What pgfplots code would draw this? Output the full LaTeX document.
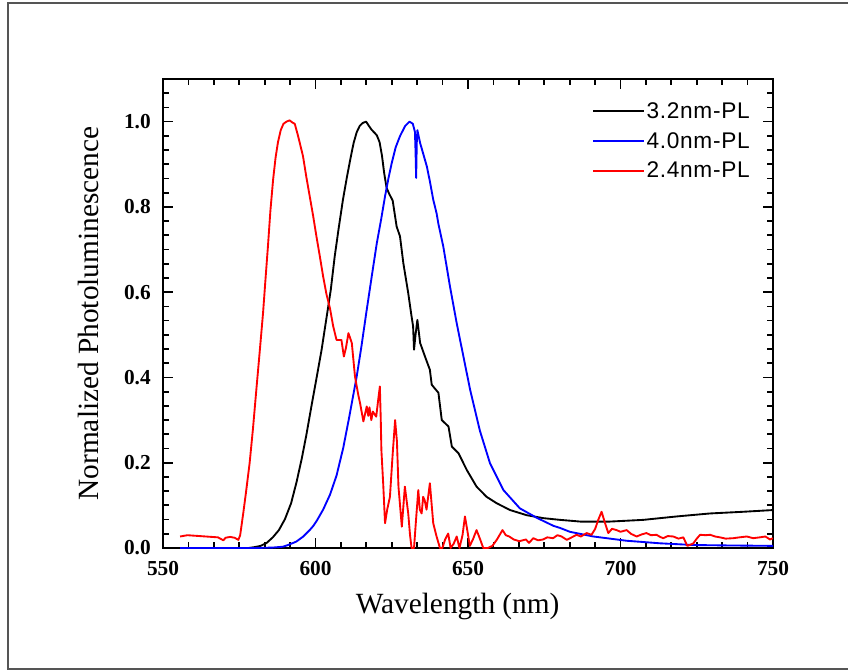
\documentclass[border=0pt]{standalone}
\usepackage{fontspec}
\setmainfont{Liberation Serif}
\newfontfamily\legfont[LetterSpace=3.0]{Liberation Sans}
\usepackage{pgfplots}
\pgfplotsset{compat=1.18}
\definecolor{framegray}{RGB}{85,85,85}
\begin{document}
\begin{tikzpicture}
\useasboundingbox (0,0) rectangle (636pt,503.25pt);
\draw[framegray, line width=1.5pt] (6pt,1.5pt) rectangle (640pt,501pt);
\begin{axis}[
  at={(122.25pt,92.25pt)}, anchor=south west,
  scale only axis, width=457.5pt, height=351.75pt,
  xmin=550, xmax=750, ymin=0, ymax=1.1,
  xtick={550,600,650,700,750},
  ytick={0,0.2,0.4,0.6,0.8,1.0},
  minor tick num=5,
  extra y ticks={1.033333,1.066667},
  extra y tick labels={},
  extra y tick style={major tick length=4.5pt},
  tick align=inside,
  major tick length=7.5pt, minor tick length=4.5pt,
  axis line style={line width=1.5pt},
  major tick style={black, line width=1.3pt},
  minor tick style={black, line width=1.3pt},
  /pgf/number format/assume math mode=true,
  xticklabel style={font=\fontsize{16}{18}\selectfont\bfseries, anchor=base, yshift=-20.25pt, inner sep=0pt},
  yticklabel style={font=\fontsize{16}{18}\selectfont\bfseries, anchor=east, xshift=-9pt, inner sep=0pt,
    /pgf/number format/fixed, /pgf/number format/precision=1, /pgf/number format/fixed zerofill},
  xticklabel={\pgfmathprintnumber[fixed,precision=0]{\tick}},
  xlabel={Wavelength (nm)},
  ylabel={Normalized Photoluminescence},
  label style={font=\fontsize{22}{26}\selectfont},
  xlabel style={at={(axis description cs:0.483,-0.1386)}, anchor=base},
  ylabel style={at={(axis description cs:-0.123,0.5)}, anchor=center, rotate=0},
  legend style={draw=none, fill=none, at={(axis description cs:0.703,0.955)}, anchor=north west,
    font=\legfont\fontsize{17}{20}\selectfont, row sep=6pt, inner sep=0pt,
    nodes={inner sep=1.5pt}},
  legend cell align=left,
  legend image code/.code={\draw[#1] (0pt,0pt) -- (38pt,0pt);},
]
\addplot[black, line width=1.4pt, line join=round] coordinates {
(556,0.0) (570,0.0) (578,0.0) (580,0.002) (582,0.005) (584,0.012) (586,0.025) (588,0.042)
(590,0.068) (592,0.105) (593.8,0.155) (595.5,0.21) (597,0.265) (598.6,0.33) (600.3,0.397)
(602,0.465) (603.5,0.535) (605,0.605) (606.3,0.684) (607.6,0.75) (609,0.817) (610.3,0.87)
(611.5,0.915) (612.5,0.95) (613.5,0.975) (614.5,0.99) (615.5,0.997) (616.6,1.0) (617.5,0.99) (618.4,0.981)
(619.2,0.975) (620.1,0.968) (621.0,0.952) (621.8,0.92) (622.5,0.88) (623.3,0.845) (624.2,0.83) (625.3,0.815)
(626.6,0.754) (627.7,0.731) (628.8,0.668) (630.4,0.598) (631.5,0.543) (632.0,0.52) (632.3,0.465)
(632.8,0.50) (633.4,0.535) (634.3,0.481) (635.9,0.449) (637.5,0.418) (638.1,0.383) (640.3,0.364)
(641.4,0.300) (643.6,0.285) (644.7,0.238) (646.9,0.222) (649.6,0.183) (652.8,0.144) (656.1,0.120)
(659.4,0.105) (663.8,0.089) (669.2,0.077) (674.7,0.070) (680.2,0.066) (686.8,0.062) (696.6,0.062)
(707.5,0.066) (718.4,0.074) (729.3,0.081) (740.3,0.085) (750,0.089)
};
\addlegendentry{3.2nm-PL}
\addplot[blue, line width=1.4pt, line join=round] coordinates {
(555.6,0.0) (580,0.0) (586,0.001) (589.3,0.003) (591,0.007) (593.7,0.015) (596,0.027) (598.1,0.042)
(599.3,0.052) (600.5,0.065) (602.5,0.09) (604.75,0.125) (606.9,0.17) (609.1,0.235)
(611,0.305) (613.5,0.402) (615,0.47) (616.8,0.559) (618.5,0.64) (620.1,0.715) (621.5,0.77)
(622.8,0.825) (624,0.87) (625.0,0.903) (626.3,0.94) (627.7,0.966) (629.4,0.99) (630.8,1.0)
(631.9,0.995) (632.6,0.976) (632.8,0.93) (633.0,0.868) (633.2,0.95) (633.4,0.98) (634.3,0.95)
(635.5,0.92) (636.5,0.895) (637.5,0.86) (638.6,0.817) (639.7,0.785) (640.3,0.76) (641.9,0.707)
(644.1,0.613) (646.3,0.527) (648.5,0.449) (650.7,0.371) (653.9,0.275) (657.2,0.199) (661.6,0.136)
(667.0,0.093) (672.5,0.071) (678.0,0.052) (680.2,0.047) (683.4,0.038) (691.1,0.027) (702.0,0.017)
(713,0.011) (724,0.007) (735,0.006) (750,0.005)
};
\addlegendentry{4.0nm-PL}
\addplot[red, line width=1.4pt, line join=round] coordinates {
(555.6,0.027) (558,0.03) (560,0.029) (562,0.028) (564,0.027) (566,0.026) (568,0.025) (569.8,0.018)
(570.5,0.024) (572,0.026) (573.5,0.024) (574.7,0.019) (575.3,0.03) (576.3,0.081) (577.2,0.13)
(578.4,0.199) (579.5,0.28) (580.6,0.371) (581.7,0.46) (582.8,0.551) (583.6,0.63) (584.4,0.707)
(585.2,0.79) (586.1,0.864) (586.9,0.915) (587.7,0.952) (588.6,0.98) (589.5,0.995) (590.5,1.0) (591.5,1.003)
(592.4,0.998) (593.2,0.995) (594.3,0.966) (595.9,0.919) (597,0.87) (598.1,0.825) (599.2,0.78)
(600.3,0.731) (601.4,0.685) (602.5,0.637) (603.6,0.595) (604.75,0.562) (605.8,0.52) (606.9,0.488)
(608.5,0.488) (609.3,0.449) (610.0,0.47) (610.8,0.504) (611.9,0.481) (612.95,0.402) (614.0,0.36)
(614.6,0.340) (615.7,0.297) (616.8,0.332) (617.3,0.31) (617.7,0.33) (618.3,0.30) (618.8,0.320)
(619.9,0.308) (620.6,0.35) (621.1,0.379) (621.4,0.30) (621.6,0.23) (622.2,0.15) (622.8,0.058)
(623.5,0.09) (624.4,0.120) (625.3,0.22) (626.1,0.300) (626.7,0.25) (627.2,0.144) (628.3,0.05)
(629.3,0.144) (630.4,0.081) (631.0,0.03) (631.5,0.0) (632.3,0.0) (633.0,0.07) (633.7,0.136)
(634.2,0.09) (634.8,0.081) (635.3,0.12) (635.8,0.112) (636.4,0.09) (637.5,0.152) (638.6,0.058)
(639.7,0.027) (640.8,0.0) (641.6,0.0) (642.5,0.02) (643.5,0.034) (644.3,0.0) (645.3,0.01)
(646.3,0.027) (647.2,0.0) (648.2,0.03) (649.0,0.074) (649.8,0.04) (650.6,0.005) (651.6,0.02)
(652.8,0.042) (654,0.02) (655,0.0) (656.5,0.0) (658,0.005) (659.5,0.02) (661.3,0.042) (662.4,0.03)
(663.5,0.027) (665,0.02) (666.8,0.016) (669.0,0.02) (670,0.012) (671.4,0.023) (673,0.018)
(674.6,0.02) (676,0.025) (677.9,0.023) (679.3,0.03) (680.7,0.027) (682.4,0.019) (684,0.025)
(685.6,0.031) (687,0.027) (688.9,0.035) (690.5,0.031) (691.7,0.045) (692.7,0.066) (693.8,0.085)
(694.9,0.059) (696.0,0.035) (697.2,0.045) (698.7,0.042) (700,0.038) (702,0.042) (703.5,0.033)
(705.3,0.027) (707,0.032) (708.5,0.035) (710,0.03) (711.8,0.031) (713,0.026) (714.0,0.023)
(715.5,0.028) (717.3,0.027) (719,0.022) (720.6,0.025) (721.9,0.005) (723,0.008) (723.9,0.011)
(725,0.022) (726.1,0.031) (728,0.03) (729.4,0.031) (731,0.027) (732.6,0.025) (734.5,0.022)
(737.0,0.023) (739,0.025) (741.4,0.027) (743.5,0.023) (745.7,0.025) (747.5,0.027) (749,0.02)
(750,0.023)
};
\addlegendentry{2.4nm-PL}
\end{axis}
\end{tikzpicture}
\end{document}
